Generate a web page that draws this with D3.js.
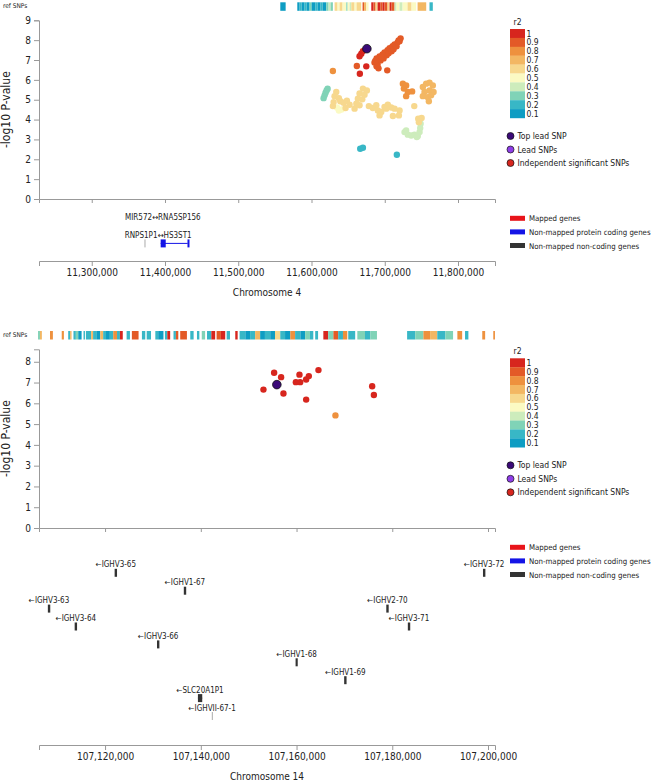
<!DOCTYPE html>
<html>
<head>
<meta charset="utf-8">
<script src="https://cdn.jsdelivr.net/npm/d3@7"></script>
<style>
  body { margin: 0; background: #fff; }
  text { font-family: "DejaVu Sans Condensed", "DejaVu Sans", sans-serif; fill: #222; }
  .axis path, .axis line { stroke: #999; }
  .axis text { fill: #222; }
</style>
</head>
<body>
<script>
// r2 colour classes, 0.1 .. 1
const r2Labels = ["1", "0.9", "0.8", "0.7", "0.6", "0.5", "0.4", "0.3", "0.2", "0.1"];
const r2Colors = ["#0e9dc3", "#38b7c6", "#80d3b7", "#cdecbc", "#fbfac3",
                  "#f7d88e", "#f3b763", "#ee913e", "#e35a27", "#d7261e"];

// ---- chromosome 4 ----
const ticks4 = [11300000, 11400000, 11500000, 11600000, 11700000, 11800000];
const lead4 = [11675600, 7.57];
// [position, -log10 P, r2]
const snps4 = [
  [11616500,5.08,0.3],[11617900,5.22,0.3],[11619200,5.35,0.3],[11620600,5.47,0.3],[11622000,5.55,0.3],
  [11666500,2.53,0.2],[11670200,2.58,0.2],[11716500,2.23,0.2],
  [11727000,3.37,0.4],[11731500,3.24,0.4],[11736100,3.20,0.4],[11740600,3.24,0.4],[11745100,3.17,0.4],
  [11747500,3.37,0.4],[11748400,3.57,0.4],[11748900,3.79,0.4],[11729200,3.45,0.4],[11743800,3.12,0.4],
  [11634700,4.61,0.5],[11641100,4.51,0.5],[11637400,4.46,0.5],
  [11633800,5.39,0.6],[11631500,5.18,0.6],[11637400,5.08,0.6],[11630200,4.88,0.6],[11639300,4.92,0.6],
  [11643800,4.85,0.6],[11648300,4.95,0.6],[11652000,4.75,0.6],[11646500,4.58,0.6],[11629200,4.68,0.6],
  [11670200,5.56,0.6],[11675600,5.47,0.6],[11665600,5.31,0.6],[11672400,5.25,0.6],[11663300,5.05,0.6],
  [11669300,5.02,0.6],[11661200,4.80,0.6],[11665600,4.72,0.6],[11658800,4.55,0.6],
  [11678300,4.68,0.6],[11683700,4.58,0.6],[11688400,4.72,0.6],[11690600,4.46,0.6],[11695200,4.38,0.6],
  [11699700,4.63,0.6],[11704200,4.75,0.6],[11708800,4.61,0.6],[11713400,4.55,0.6],[11692900,4.21,0.6],
  [11711100,4.18,0.6],[11720200,4.46,0.6],[11719300,4.21,0.6],[11702000,4.55,0.6],
  [11740300,4.68,0.6],[11745700,4.04,0.6],[11750300,4.08,0.6],[11746600,3.87,0.6],
  [11752000,5.64,0.7],[11756500,5.81,0.7],[11761100,5.86,0.7],[11765600,5.72,0.7],[11754300,5.39,0.7],
  [11761100,5.47,0.7],[11766600,5.39,0.7],[11758800,5.13,0.7],[11763300,5.22,0.7],[11760200,4.92,0.7],
  [11752000,5.18,0.7],
  [11724700,5.81,0.8],[11729200,5.72,0.8],[11726100,5.56,0.8],[11731500,5.39,0.8],[11729200,5.18,0.8],
  [11737400,5.42,0.8],[11629200,6.45,0.8],
  [11686000,6.88,0.9],[11688800,7.08,0.9],[11690200,6.78,0.9],[11692900,7.18,0.9],[11694300,6.98,0.9],
  [11697000,7.28,0.9],[11698400,7.08,0.9],[11699700,7.38,0.9],[11702500,7.24,0.9],[11703800,7.49,0.9],
  [11705200,7.34,0.9],[11706600,7.59,0.9],[11709300,7.44,0.9],[11710700,7.69,0.9],[11712000,7.54,0.9],
  [11713400,7.79,0.9],[11716100,7.69,0.9],[11717500,7.89,0.9],[11718900,7.99,0.9],[11721600,8.09,0.9],
  [11720200,7.94,0.9],[11688800,6.68,0.9],[11691500,6.58,0.9],[11687000,6.95,0.9],[11696000,7.15,0.9],
  [11661900,6.70,0.9],[11703400,6.48,0.9],
  [11668000,7.32,1],[11670200,7.45,1],[11665600,7.19,1],[11674800,6.68,1],[11666000,6.31,1]
];
// ref SNP runs [start, end, r2]
const ref4 = [
  [11557400,11564700,0.1],
  [11580600,11583800,0.1],[11583800,11586500,0.2],[11586500,11590600,0.1],[11590600,11593300,0.2],
  [11593300,11597400,0.1],[11597400,11600100,0.3],[11600100,11605600,0.1],[11605600,11608300,0.2],
  [11608300,11612400,0.1],[11612400,11615200,0.2],[11615200,11620200,0.1],
  [11620200,11623300,0.3],[11623300,11626100,0.4],[11626100,11629200,0.3],
  [11631500,11635600,0.6],[11635600,11638300,0.5],[11638300,11642400,0.6],[11642400,11647500,0.5],
  [11647500,11649300,0.3],[11649300,11652000,0.5],[11652000,11654300,0.4],
  [11654300,11658800,0.6],[11658800,11661500,0.5],[11661500,11667900,0.6],
  [11669700,11671800,0.9],[11671800,11674800,0.7],[11675200,11677900,0.5],
  [11681600,11684700,1],[11684700,11687500,0.9],[11687500,11690200,0.6],[11690200,11694300,1],
  [11694300,11697000,0.9],[11697000,11699700,1],[11699700,11703800,0.9],[11703800,11706600,0.6],
  [11706600,11709300,1],[11709300,11713400,0.9],
  [11713400,11716100,0.4],[11716100,11720200,0.5],[11720200,11724300,0.4],
  [11724300,11731100,0.5],[11731100,11736600,0.6],[11736600,11743000,0.5],
  [11744800,11756600,0.7],[11761100,11765600,0.2]
];
// genes [name, start, end, row, type, exons]
const genes4 = [
  ["RNPS1P1", 11372000, 11372300, 1, "nc", null],
  ["HS3ST1", 11394100, 11431000, 1, "pc", [[11394100, 11401000], [11430700, 11431000]]]
];
// labels [text, centre, row]
const labels4 = [
  ["MIR572\u2194RNA5SP156", 11397000, 0],
  ["RNPS1P1\u2194HS3ST1", 11390700, 1]
];

// ---- chromosome 14 ----
const ticks14 = [107120000, 107140000, 107160000, 107180000, 107200000];
const lead14 = [107155890, 6.90];
const snps14 = [
  [107168130,5.42,0.8],
  [107153090,6.66,1],[107155320,7.47,1],[107156780,7.26,1],[107157270,6.47,1],[107159860,7.02,1],
  [107160760,7.02,1],[107160610,7.38,1],[107162010,7.15,1],[107162570,7.31,1],[107164580,7.60,1],
  [107162010,6.18,1],[107175800,6.82,1],[107176160,6.40,1]
];
const ref14 = [
  [107106000,107106400,0.3],[107106400,107106800,0.7],[107108500,107109100,0.8],[107110950,107111400,0.8],
  [107112300,107112700,0.2],[107112700,107113000,0.7],[107113400,107113900,0.2],[107113900,107114400,0.3],
  [107114400,107115100,0.1],[107115500,107115800,0.2],[107116000,107117100,0.2],[107117100,107117500,0.7],
  [107117500,107118300,0.2],[107118300,107119000,0.1],[107119000,107119600,0.7],[107119600,107120200,0.2],
  [107120200,107121000,0.1],[107121000,107121700,0.2],[107121700,107122500,0.8],[107122500,107123100,0.2],
  [107123100,107123700,1],[107124500,107125200,0.2],[107125600,107127000,0.9],[107127700,107128400,0.2],
  [107128700,107129600,0.2],[107130500,107131100,0.2],[107131100,107132200,0.1],[107132500,107133000,0.2],
  [107133000,107133600,1],[107134300,107134800,0.2],[107134800,107135300,0.9],[107135700,107137100,0.9],
  [107137800,107138500,0.2],[107139200,107139700,0.2],[107140200,107140900,0.3],[107141300,107142200,0.2],
  [107142200,107143000,1],[107143300,107144200,0.9],[107144200,107145100,1],[107145400,107146100,0.2],
  [107147200,107147700,1],[107148100,107149300,0.2],[107149300,107150300,0.1],[107150300,107151350,0.2],
  [107151350,107152400,0.7],[107152400,107153400,0.1],[107153400,107154500,0.2],[107154500,107155500,0.1],
  [107155500,107156600,0.6],[107156600,107157600,0.2],[107157600,107158700,0.1],[107158700,107159700,0.8],
  [107159700,107160800,0.2],[107160800,107161800,0.1],[107161800,107162800,0.3],[107162800,107163500,0.2],
  [107163900,107164500,0.2],[107165600,107166600,1],[107166600,107167700,0.3],[107167700,107168700,0.9],
  [107168700,107169700,0.2],[107169700,107170600,0.8],[107170800,107172250,0.2],[107172700,107174300,0.3],
  [107174300,107175400,0.2],[107175400,107176800,0.3],[107183100,107184800,0.2],[107184800,107186500,0.3],
  [107186500,107187900,0.8],[107187900,107189400,0.7],[107189400,107191100,0.2],[107191100,107192700,0.3],
  [107193600,107194600,0.8],[107195200,107195900,0.2],[107198800,107199400,0.8],[107201100,107201450,0.8]
];
const genes14 = [
  ["IGHV3-65", 107122000, 107122500, 0, "nc", [[107122000, 107122500]]],
  ["IGHV3-72", 107198950, 107199450, 0, "nc", [[107198950, 107199450]]],
  ["IGHV1-67", 107136450, 107136950, 1, "nc", [[107136450, 107136950]]],
  ["IGHV3-63", 107108050, 107108550, 2, "nc", [[107108050, 107108550]]],
  ["IGHV2-70", 107178750, 107179250, 2, "nc", [[107178750, 107179250]]],
  ["IGHV3-64", 107113650, 107114150, 3, "nc", [[107113650, 107114150]]],
  ["IGHV3-71", 107183250, 107183750, 3, "nc", [[107183250, 107183750]]],
  ["IGHV3-66", 107130850, 107131350, 4, "nc", [[107130850, 107131350]]],
  ["IGHV1-68", 107159800, 107160250, 5, "nc", [[107159800, 107160250]]],
  ["IGHV1-69", 107169950, 107170450, 6, "nc", [[107169950, 107170450]]],
  ["SLC20A1P1", 107139400, 107140300, 7, "nc", [[107139400, 107140300]]],
  ["IGHVII-67-1", 107142300, 107142450, 8, "nc", null]
];
const labels14 = genes14.map(g => ["\u2190" + g[0], (g[1] + g[2]) / 2, g[3]]);

const geneLegend = [["Mapped genes", "#e8141a"], ["Non-mapped protein coding genes", "#1414e6"], ["Non-mapped non-coding genes", "#333"]];
const snpLegend = [["Top lead SNP", "#3b0a78"], ["Lead SNPs", "#8f3ee8"], ["Independent significant SNPs", "#d7261e"]];
const geneColor = { pc: "#1414e6", nc: "#333" };

const W = 660, H = 782;
const svg = d3.select("body").append("svg").attr("width", W).attr("height", H);

function r2Color(r) {
  const i = Math.max(0, Math.min(9, Math.round(r * 10) - 1));
  return r2Colors[i];
}

function drawPanel(cfg) {
  const x = d3.scaleLinear().domain(cfg.xDomain).range([39, 495]);
  const y = d3.scaleLinear().domain([0, cfg.yMax]).range([cfg.plotBottom, cfg.plotTop]);

  // ref SNPs strip
  svg.append("text").attr("x", 3).attr("y", cfg.refY + 5.5)
    .style("font-size", "6.5px").text("ref SNPs");
  svg.append("g").selectAll("rect").data(cfg.ref).join("rect")
    .attr("x", d => x(d[0]))
    .attr("width", d => Math.max(1, x(d[1]) - x(d[0])))
    .attr("y", cfg.refY).attr("height", 8.5)
    .attr("fill", d => r2Color(d[2]));

  // y axis
  svg.append("g").attr("class", "axis")
    .attr("transform", "translate(39,0)")
    .call(d3.axisLeft(y).tickValues(d3.range(0, Math.floor(cfg.yMax) + 1)).tickSize(5).tickPadding(3))
    .selectAll("text").style("font-size", "10px");
  svg.append("text")
    .attr("transform", `translate(10,${(cfg.plotTop + cfg.plotBottom) / 2}) rotate(-90)`)
    .attr("text-anchor", "middle").style("font-size", "12px").text("-log10 P-value");

  // x axis of the scatter (no labels)
  svg.append("g").attr("class", "axis")
    .attr("transform", `translate(0,${cfg.plotBottom})`)
    .call(d3.axisBottom(x).tickValues(cfg.ticks).tickFormat("").tickSize(4));

  // points
  const pts = cfg.snps.slice().sort((a, b) => a[2] - b[2]);
  svg.append("g").selectAll("circle").data(pts).join("circle")
    .attr("cx", d => x(d[0])).attr("cy", d => y(d[1])).attr("r", 3.2)
    .attr("fill", d => r2Color(d[2]));
  svg.append("circle")
    .attr("cx", x(cfg.lead[0])).attr("cy", y(cfg.lead[1])).attr("r", 4.3)
    .attr("fill", "#3b0a78").attr("stroke", "#111").attr("stroke-width", 0.8);

  // genes
  const rowY = r => cfg.geneRowTop + r * 17.9;
  const gg = svg.append("g");
  cfg.genes.forEach(g => {
    const top = rowY(g[3]) + 4.5;
    const col = geneColor[g[4]];
    if (g[5]) {
      if (x(g[2]) - x(g[1]) > 3) {
        gg.append("line").attr("x1", x(g[1])).attr("x2", x(g[2]))
          .attr("y1", top + 4).attr("y2", top + 4).attr("stroke", col).attr("stroke-width", 1);
      }
      g[5].forEach(e => {
        gg.append("rect").attr("x", x(e[0])).attr("y", top)
          .attr("width", Math.max(2, x(e[1]) - x(e[0]))).attr("height", 8).attr("fill", col);
      });
    } else {
      gg.append("rect").attr("x", x(g[1])).attr("y", top)
        .attr("width", Math.max(1, x(g[2]) - x(g[1]))).attr("height", 8).attr("fill", "#aaa");
    }
  });
  gg.selectAll("text").data(cfg.labels).join("text")
    .attr("x", d => x(d[1])).attr("y", d => rowY(d[2]) + 3)
    .attr("text-anchor", "middle").style("font-size", "8px").text(d => d[0]);

  // gene axis
  svg.append("g").attr("class", "axis")
    .attr("transform", `translate(0,${cfg.axisY})`)
    .call(d3.axisBottom(x).tickValues(cfg.ticks).tickFormat(d3.format(",")).tickSize(5).tickPadding(3))
    .selectAll("text").style("font-size", "10px");
  svg.append("text").attr("x", 267).attr("y", cfg.axisY + 35)
    .attr("text-anchor", "middle").style("font-size", "10px").text(cfg.chrom);

  // r2 legend
  const lt = cfg.legendTop, bh = 8.9;
  svg.append("text").attr("x", 517.5).attr("y", lt - 4).attr("text-anchor", "middle")
    .style("font-size", "8.5px").text("r2");
  const lg = svg.append("g");
  lg.selectAll("rect").data(r2Labels).join("rect")
    .attr("x", 510).attr("y", (d, i) => lt + i * bh).attr("width", 15).attr("height", bh + 0.2)
    .attr("fill", (d, i) => r2Colors[9 - i]);
  lg.selectAll("text").data(r2Labels).join("text")
    .attr("x", 526.5).attr("y", (d, i) => lt + i * bh + 7.5)
    .style("font-size", "8.5px").text(d => d);

  // SNP type legend
  snpLegend.forEach((s, i) => {
    const cy = lt + 107 + i * 13.5;
    svg.append("circle").attr("cx", 510.5).attr("cy", cy).attr("r", 3.5)
      .attr("fill", s[1]).attr("stroke", "#111").attr("stroke-width", 0.7);
    svg.append("text").attr("x", 517.5).attr("y", cy + 3).style("font-size", "8.5px").text(s[0]);
  });

  // gene legend
  geneLegend.forEach((s, i) => {
    const cy = cfg.geneLegendTop + i * 13.6;
    svg.append("rect").attr("x", 510).attr("y", cy - 2.5).attr("width", 15).attr("height", 5).attr("fill", s[1]);
    svg.append("text").attr("x", 529).attr("y", cy + 3).style("font-size", "7.8px").text(s[0]);
  });
}

drawPanel({
  xDomain: [11228000, 11850500], yMax: 9, refY: 2.3, plotTop: 20.3, plotBottom: 199,
  geneRowTop: 217, axisY: 261, legendTop: 29, geneLegendTop: 218.3, chrom: "Chromosome 4",
  ticks: ticks4, snps: snps4, lead: lead4, ref: ref4, genes: genes4, labels: labels4
});
drawPanel({
  xDomain: [107106200, 107201460], yMax: 8.6, refY: 331, plotTop: 349.3, plotBottom: 528,
  geneRowTop: 564.3, axisY: 745, legendTop: 358.3, geneLegendTop: 547.3, chrom: "Chromosome 14",
  ticks: ticks14, snps: snps14, lead: lead14, ref: ref14, genes: genes14, labels: labels14
});
</script>
</body>
</html>
